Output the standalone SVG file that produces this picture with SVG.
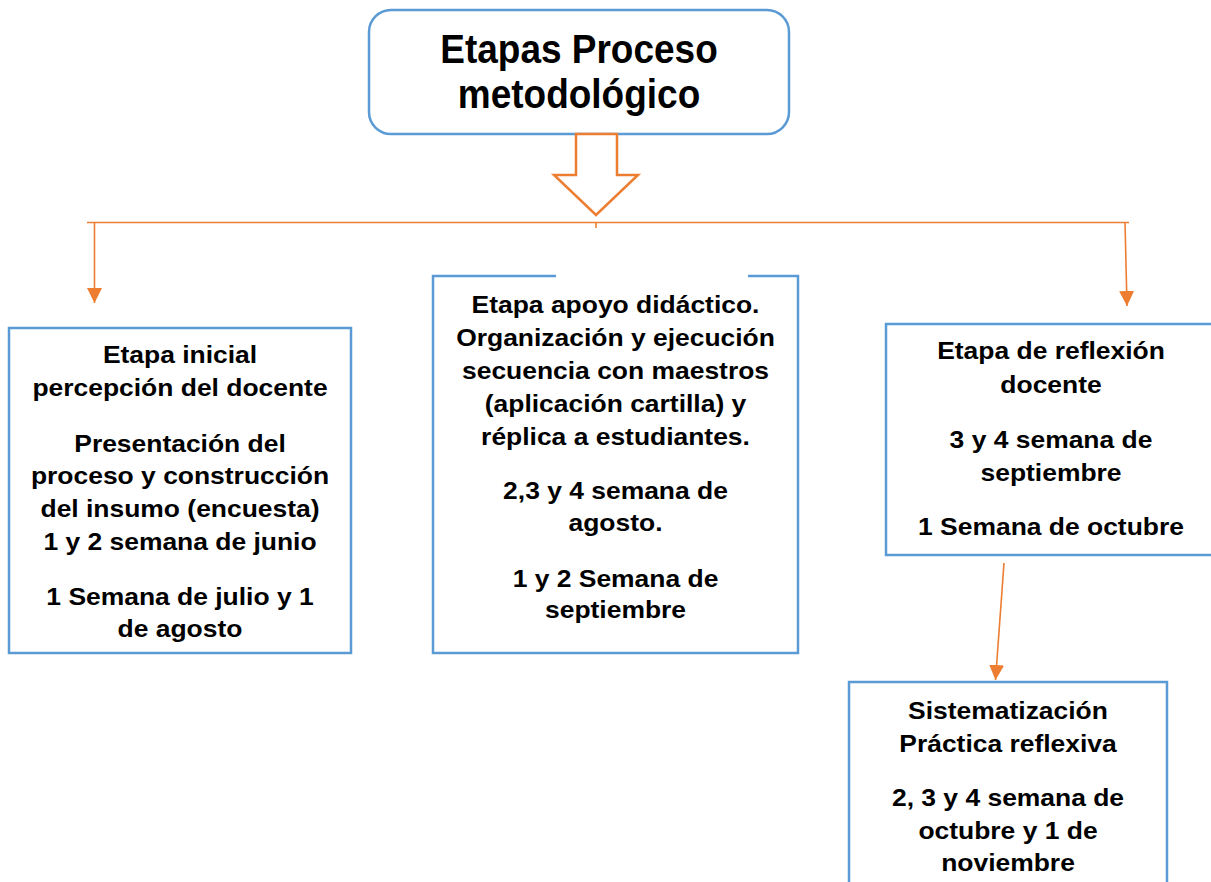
<svg xmlns="http://www.w3.org/2000/svg" width="1211" height="882" viewBox="0 0 1211 882">
<style>
.box{fill:#fff;stroke:#5B9BD5;stroke-width:2.5}
.con{fill:none;stroke:#ED7D31;stroke-width:1.6}
.t{font-family:"Liberation Sans",Arial,sans-serif;font-weight:bold;font-size:23px;fill:#000;text-anchor:middle}
.title{font-family:"Liberation Sans",Arial,sans-serif;font-weight:bold;font-size:40px;fill:#000;text-anchor:middle}
</style>
<defs>
<marker id="ah" viewBox="0 0 10 10" refX="10" refY="5" markerWidth="15" markerHeight="15" markerUnits="userSpaceOnUse" orient="auto">
<path d="M0,0 L10,5 L0,10 z" fill="#ED7D31"/>
</marker>
</defs>
<rect width="1211" height="882" fill="#fff"/>

<g id="title">
<rect class="box" x="369" y="10" width="420" height="124" rx="22"/>
<g transform="translate(579,0) scale(0.925,1)">
<text class="title" x="0" y="63">Etapas Proceso</text>
<text class="title" x="0" y="108">metodológico</text>
</g>
</g>

<g id="connectors">
<path d="M576,134 V175 H554 L596,215 L638,175 H617 V134 Z" fill="#fff" stroke="#ED7D31" stroke-width="2.5" stroke-linejoin="miter"/>
<line class="con" x1="87" y1="222.5" x2="1129" y2="222.5"/>
<line class="con" x1="596" y1="222" x2="596" y2="228" stroke-width="1"/>
<line class="con" x1="94.5" y1="222.5" x2="94.5" y2="303" marker-end="url(#ah)"/>
<line class="con" x1="1125" y1="222.5" x2="1127" y2="306" marker-end="url(#ah)"/>
<line class="con" x1="1004" y1="563" x2="995.5" y2="680" marker-end="url(#ah)"/>
</g>

<g id="etapa-inicial">
<rect class="box" x="9" y="328" width="342" height="325"/>
<g transform="translate(180,0) scale(1.15,1)">
<text class="t" x="0" y="363">Etapa inicial</text>
<text class="t" x="0" y="396">percepción del docente</text>
<text class="t" x="0" y="452">Presentación del</text>
<text class="t" x="0" y="484">proceso y construcción</text>
<text class="t" x="0" y="517">del insumo (encuesta)</text>
<text class="t" x="0" y="550">1 y 2 semana de junio</text>
<text class="t" x="0" y="605">1 Semana de julio y 1</text>
<text class="t" x="0" y="637">de agosto</text>
</g>
</g>

<g id="etapa-apoyo">
<path class="box" d="M556,276 H433 V653 H798 V276 H748"/>
<g transform="translate(615.5,0) scale(1.15,1)">
<text class="t" x="0" y="313">Etapa apoyo didáctico.</text>
<text class="t" x="0" y="346">Organización y ejecución</text>
<text class="t" x="0" y="379">secuencia con maestros</text>
<text class="t" x="0" y="412">(aplicación cartilla) y</text>
<text class="t" x="0" y="445">réplica a estudiantes.</text>
<text class="t" x="0" y="499">2,3 y 4 semana de</text>
<text class="t" x="0" y="531">agosto.</text>
<text class="t" x="0" y="587">1 y 2 Semana de</text>
<text class="t" x="0" y="618">septiembre</text>
</g>
</g>

<g id="etapa-reflexion">
<rect class="box" x="886" y="324" width="330" height="231"/>
<g transform="translate(1051,0) scale(1.15,1)">
<text class="t" x="0" y="359">Etapa de reflexión</text>
<text class="t" x="0" y="393">docente</text>
<text class="t" x="0" y="448">3 y 4 semana de</text>
<text class="t" x="0" y="481">septiembre</text>
<text class="t" x="0" y="535">1 Semana de octubre</text>
</g>
</g>

<g id="sistematizacion">
<rect class="box" x="849" y="682" width="318" height="215"/>
<g transform="translate(1008,0) scale(1.15,1)">
<text class="t" x="0" y="719">Sistematización</text>
<text class="t" x="0" y="752">Práctica reflexiva</text>
<text class="t" x="0" y="806">2, 3 y 4 semana de</text>
<text class="t" x="0" y="839">octubre y 1 de</text>
<text class="t" x="0" y="871">noviembre</text>
</g>
</g>
</svg>
